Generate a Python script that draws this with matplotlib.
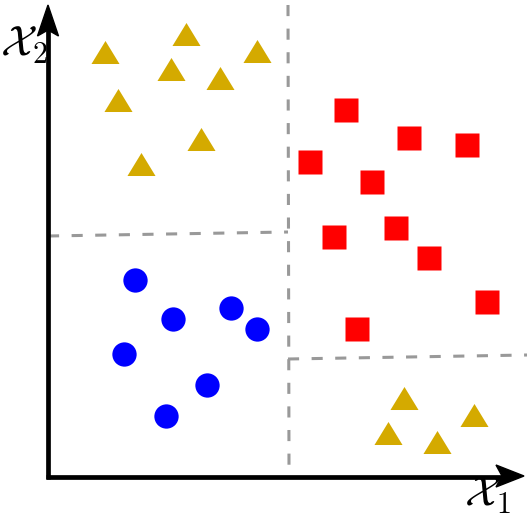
import matplotlib.pyplot as plt
import matplotlib.patches as patches

plt.rcParams['mathtext.fontset'] = 'cm'
plt.rcParams['lines.scale_dashes'] = False

# class A: gold triangles (two clusters)
tri_x = [57, 138, 209, 123, 172, 70, 153, 93, 356, 340, 389, 426]
tri_y = [425, 443, 426, 408, 399, 377, 338, 313, 79, 44, 35, 62]

# class B: red squares
sq_x = [298, 361, 419, 262, 324, 286, 348, 381, 439, 309]
sq_y = [367, 339, 332, 315, 295, 240, 249, 219, 175, 148]

# class C: blue circles
circ_x = [87, 125, 183, 209, 76, 159, 118]
circ_y = [197, 158, 169, 148, 123, 92, 61]

# decision boundaries (split positions)
split_v_x = [240, 241]
split_v_y = [472, 9]
split_left_x = [0, 240]
split_left_y = [241, 245]
split_right_x = [240, 479]
split_right_y = [118, 122]

fig = plt.figure(figsize=(5.27, 5.18), dpi=100)
ax = fig.add_axes([0, 0, 1, 1])
ax.set_xlim(-48, 479)
ax.set_ylim(-41, 477)
ax.set_aspect('equal')
ax.axis('off')

dash = dict(color='#999999', lw=2.2, linestyle=(0, (8, 9)), zorder=1)
ax.plot(split_v_x, split_v_y, **dash)
ax.plot(split_left_x, split_left_y, **dash)
ax.plot(split_right_x, split_right_y, **dash)

# coordinate axes with concave arrowheads
ax.plot([0, 0], [-2, 450], color='black', lw=3.4, solid_capstyle='butt', zorder=3)
ax.plot([-2, 455], [0, 0], color='black', lw=3.4, solid_capstyle='butt', zorder=3)
ax.add_patch(patches.Polygon([(0, 472), (-10.5, 441), (0, 447), (10.5, 441)],
                             closed=True, color='black', zorder=3))
ax.add_patch(patches.Polygon([(476, 1), (448, 12), (454, 1), (448, -10)],
                             closed=True, color='black', zorder=3))

tri_marker = [(-1, -0.82), (1, -0.82), (0, 0.82)]
ax.plot(tri_x, tri_y, linestyle='none', marker=tri_marker, ms=20.2,
        color='#d4aa00', mec='none', zorder=2)
ax.plot(sq_x, sq_y, linestyle='none', marker='s', ms=17.6,
        color='#ff0000', mec='none', zorder=2)
ax.plot(circ_x, circ_y, linestyle='none', marker='o', ms=17.5,
        color='#0000ff', mec='none', zorder=2)

ax.text(-24, 432, r'$\mathcal{X}_2$', fontsize=31, ha='center', va='center')
ax.text(440, -18, r'$\mathcal{X}_1$', fontsize=31, ha='center', va='center')

plt.savefig('out.png', dpi=100)
